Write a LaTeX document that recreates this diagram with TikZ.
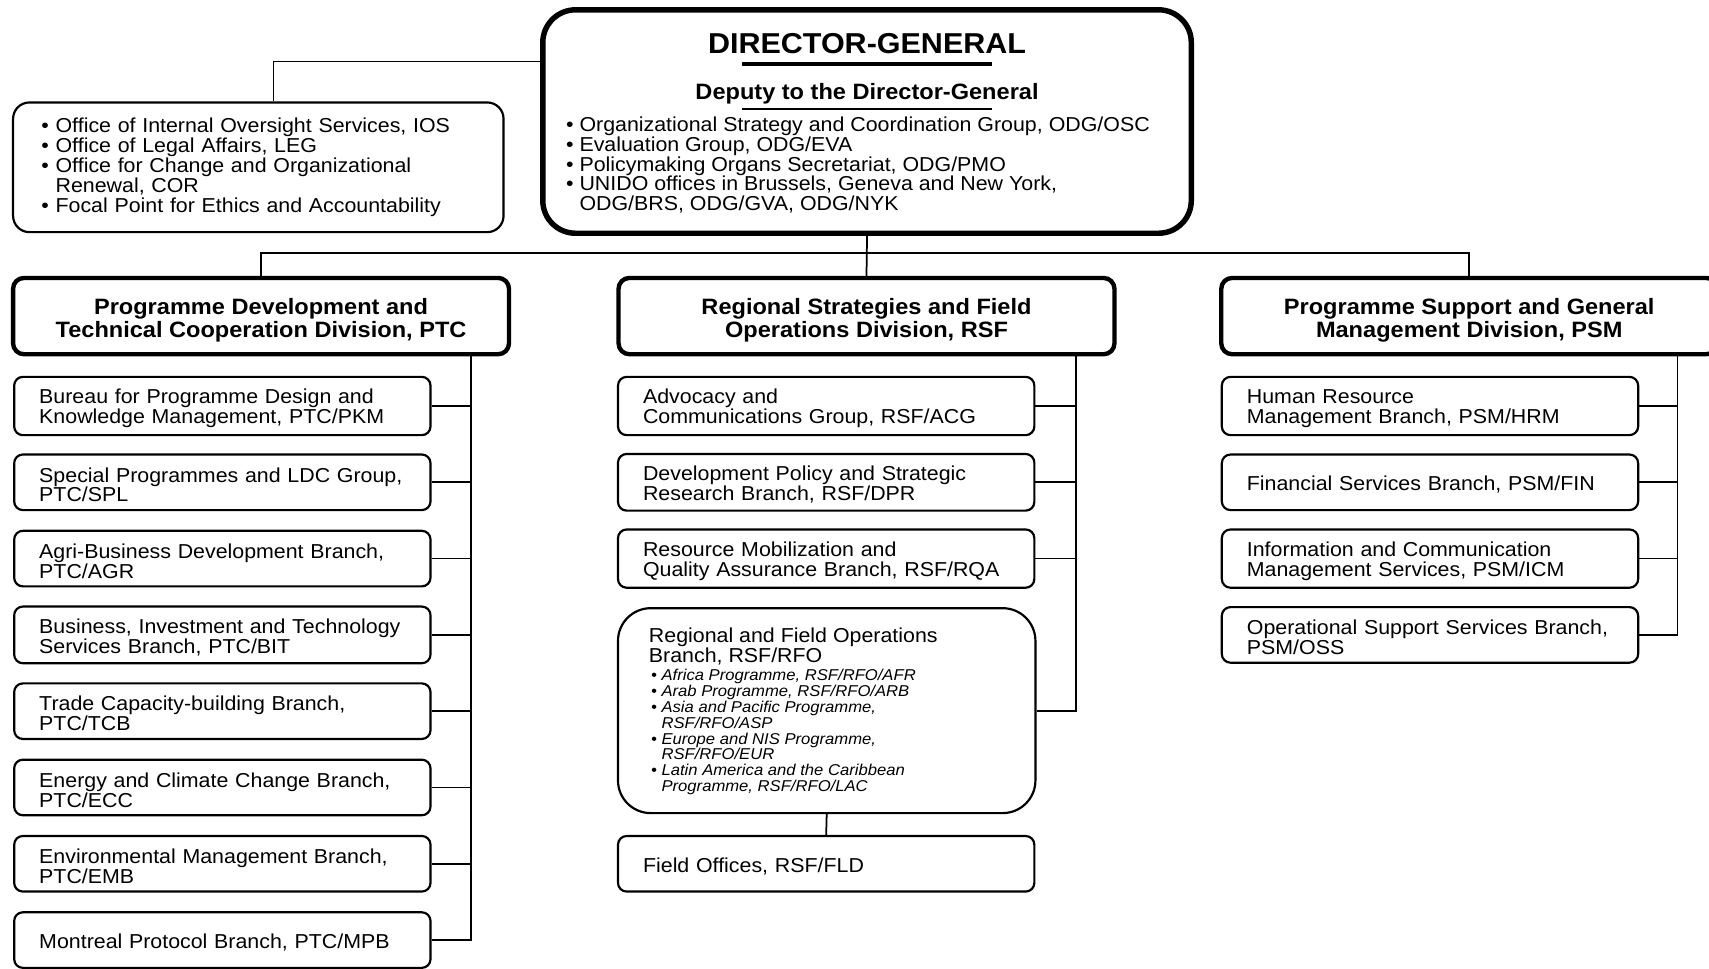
\documentclass[tikz,border=0pt]{standalone}
\usepackage{fontspec}
\setmainfont{Liberation Sans}[FakeStretch=1.06]
\usetikzlibrary{positioning}
\newcommand\unitfont{\fontsize{9.25}{9.15}\selectfont}
\newcommand\divfont{\fontsize{10.2}{10.5}\selectfont\bfseries}
\newcommand\dgfont{\fontsize{13.2}{15}\selectfont\bfseries}
\newcommand\rfofont{\fontsize{7.2}{7.25}\selectfont\itshape}
\def\divup{\rule{0pt}{11pt}}

\begin{document}
\begin{tikzpicture}[x=0.5pt, y=-0.5pt,
	unit/.style={draw, line width=1pt, rounded corners=4pt, anchor=west, text width=168pt, inner xsep=11.5pt, minimum height=25.5pt, align=left, font=\unitfont, execute at begin node={\rule{0pt}{9pt}}},
	division/.style={draw, line width=2pt, rounded corners=5pt, minimum width=227.5pt, minimum height=35pt, align=center, font=\divfont},
	link/.style={line width=0.8pt}]
		%%%%% START %%%%%
		
		\useasboundingbox (0,0) rectangle (1568,889);
		
		% director-general
		\node[draw, line width=2.5pt, rounded corners=15pt, minimum width=297.5pt, minimum height=102.5pt] (dg) at (795.5,111.5) {};
		\node[font=\dgfont] (dgt) at (795.5,40) {DIRECTOR-GENERAL};
		\node[font=\divfont] (ddg) at (795.5,86) {Deputy to the Director-General};
		\draw[line width=2pt] (681,59) -- (910,59);
		\draw[line width=0.8pt] (681,100) -- (910,100);
		\node[anchor=north west, inner sep=0pt, align=left, font=\unitfont] (odg) at (519,106.5) {• Organizational Strategy and Coordination Group, ODG/OSC\\• Evaluation Group, ODG/EVA\\• Policymaking Organs Secretariat, ODG/PMO\\• UNIDO offices in Brussels, Geneva and New York,\\\hphantom{•\ }ODG/BRS, ODG/GVA, ODG/NYK};
		
		\node[draw, line width=1pt, rounded corners=7.5pt, text width=199pt, inner xsep=13pt, minimum height=59.5pt, align=left, font=\unitfont] (ofc) at (237,153.5) {• Office of Internal Oversight Services, IOS\\• Office of Legal Affairs, LEG\\• Office for Change and Organizational\\\hphantom{•\ }Renewal, COR\\• Focal Point for Ethics and Accountability};
		\draw[link] ([yshift=-25pt]dg.north west) -| ([xshift=7pt]ofc.north);
		
		% divisions
		\node[division] (ptc) at (239.5,290) {\divup Programme Development and\\Technical Cooperation Division, PTC};
		\node[division] (rsf) at (795,290) {\divup Regional Strategies and Field\\Operations Division, RSF};
		\node[division] (psm) at (1348,290) {\divup Programme Support and General\\Management Division, PSM};
		
		\draw[link] (dg.south) -- (rsf.north);
		\draw[link] (ptc.north) -- ++(0,-21) -| (psm.north);
		
		% PTC
		\node[unit] (ptc1) at (12,372.5) {Bureau for Programme Design and\\Knowledge Management, PTC/PKM};
		\node[unit] (ptc2) at (12,442.5) {Special Programmes and LDC Group,\\PTC/SPL};
		\node[unit] (ptc3) at (12,512.5) {Agri-Business Development Branch,\\PTC/AGR};
		\node[unit] (ptc4) at (12,582.5) {Business, Investment and Technology\\Services Branch, PTC/BIT};
		\node[unit] (ptc5) at (12,652.5) {Trade Capacity-building Branch,\\PTC/TCB};
		\node[unit] (ptc6) at (12,722.5) {Energy and Climate Change Branch,\\PTC/ECC};
		\node[unit] (ptc7) at (12,792.5) {Environmental Management Branch,\\PTC/EMB};
		\node[unit] (ptc8) at (12,862.5) {Montreal Protocol Branch, PTC/MPB};
		
		\coordinate (ptcS) at (432,325);
		\draw[link] (ptc1.east) -| (ptcS);
		\draw[link] (ptc2.east) -| (ptcS);
		\draw[link] (ptc3.east) -| (ptcS);
		\draw[link] (ptc4.east) -| (ptcS);
		\draw[link] (ptc5.east) -| (ptcS);
		\draw[link] (ptc6.east) -| (ptcS);
		\draw[link] (ptc7.east) -| (ptcS);
		\draw[link] (ptc8.east) -| (ptcS);
		
		% RSF
		\node[unit] (acg) at (566,372.5) {Advocacy and\\Communications Group, RSF/ACG};
		\node[unit] (dpr) at (566,442.5) {Development Policy and Strategic\\Research Branch, RSF/DPR};
		\node[unit] (rqa) at (566,512.5) {Resource Mobilization and\\Quality Assurance Branch, RSF/RQA};
		\node[draw, line width=1pt, rounded corners=15pt, minimum width=191.5pt, minimum height=94pt, anchor=north west] (rfo) at (566,557) {};
		\node[anchor=north west, inner sep=0pt, align=left, font=\unitfont] (rfot) at (595,575.5) {Regional and Field Operations\\Branch, RSF/RFO};
		\node[below right=1.75pt and 1pt of rfot.south west, inner sep=0pt, align=left, font=\rfofont] (rfol) {• Africa Programme, RSF/RFO/AFR\\• Arab Programme, RSF/RFO/ARB\\• Asia and Pacific Programme,\\\hphantom{•\ }RSF/RFO/ASP\\• Europe and NIS Programme,\\\hphantom{•\ }RSF/RFO/EUR\\• Latin America and the Caribbean\\\hphantom{•\ }Programme, RSF/RFO/LAC};
		\node[unit] (fld) at (566,792.5) {Field Offices, RSF/FLD};
		
		\coordinate (rsfS) at (987,325);
		\draw[link] (acg.east) -| (rsfS);
		\draw[link] (dpr.east) -| (rsfS);
		\draw[link] (rqa.east) -| (rsfS);
		\draw[link] (rfo.east) -| (rsfS);
		\draw[link] (rfo.south) -- (fld.north);
		
		% PSM
		\node[unit] (hrm) at (1120,372.5) {Human Resource\\Management Branch, PSM/HRM};
		\node[unit] (fin) at (1120,442.5) {Financial Services Branch, PSM/FIN};
		\node[unit] (icm) at (1120,512.5) {Information and Communication\\Management Services, PSM/ICM};
		\node[unit] (oss) at (1120,582.5) {Operational Support Services Branch,\\PSM/OSS};
		
		\coordinate (psmS) at (1539,325);
		\draw[link] (hrm.east) -| (psmS);
		\draw[link] (fin.east) -| (psmS);
		\draw[link] (icm.east) -| (psmS);
		\draw[link] (oss.east) -| (psmS);
		
		%%%%% END %%%%%
	\end{tikzpicture}
\end{document}
